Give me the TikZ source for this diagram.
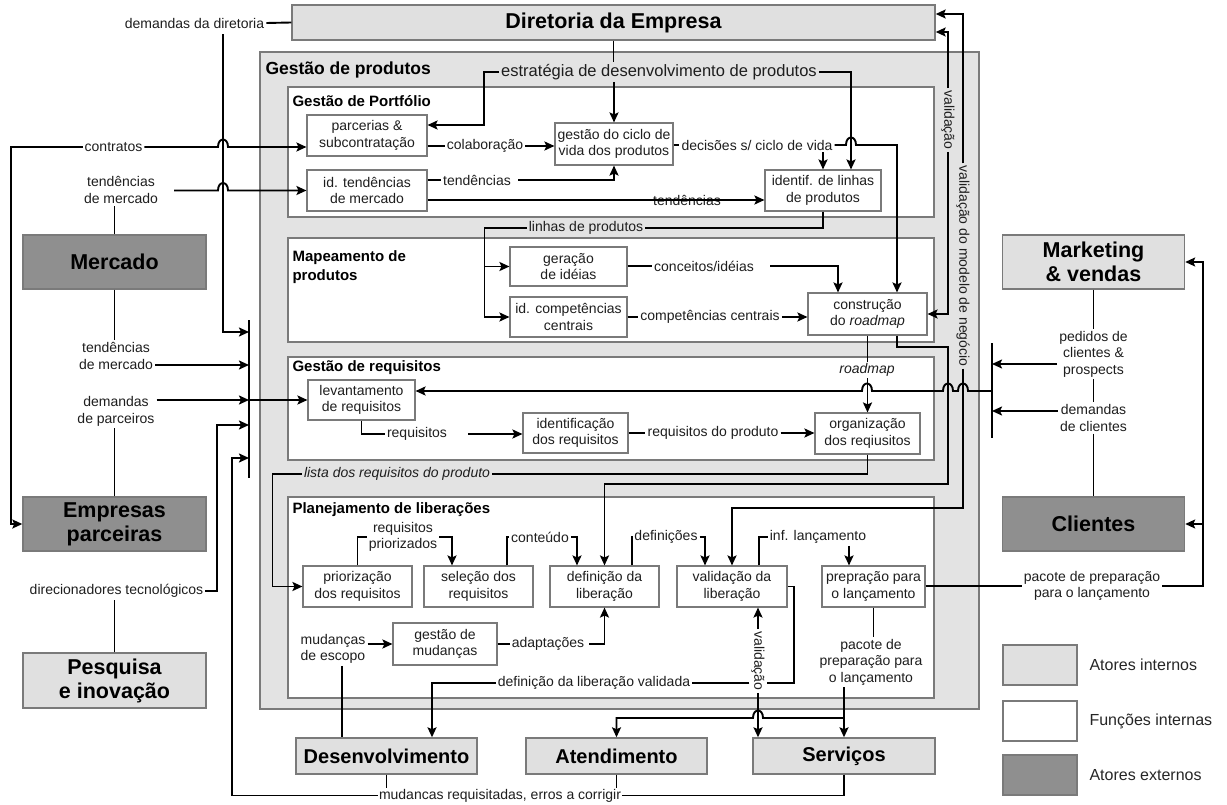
\documentclass[tikz,border=0pt]{standalone}
\usepackage{fontspec}
\setmainfont{Liberation Sans}
\usetikzlibrary{arrows.meta,calc}
\definecolor{bord}{HTML}{7A7A7A}
\definecolor{gpbg}{HTML}{E3E3E3}
\definecolor{ligray}{HTML}{E0E0E0}
\definecolor{dkgray}{HTML}{8F8F8F}
\definecolor{txt}{HTML}{1E1E1E}
\begin{document}
\begin{tikzpicture}[x=1pt,y=-1pt,
  every node/.style={font=\fontsize{14}{16.5}\selectfont, text=txt},
  fn/.style={draw=bord, fill=white, line width=1.1pt, align=center, inner sep=1pt},
  act/.style={draw=bord, line width=1.4pt, align=center, inner sep=1pt, font=\bfseries\fontsize{21.5}{24}\selectfont, text=black},
  ai/.style={act, fill=ligray},
  ae/.style={act, fill=dkgray},
  bot/.style={ai, font=\bfseries\fontsize{20}{24}\selectfont, minimum width=181pt, minimum height=36pt},
  grp/.style={draw=bord, line width=1.2pt},
  gtitle/.style={anchor=west, font=\bfseries\fontsize{15}{19}\selectfont, align=left, text=black},
  lbl/.style={align=center, inner sep=2pt},
  con/.style={line width=1.9pt, black},
  arr/.style={con, -{Stealth[length=10pt,width=9pt,inset=2pt]}},
  leg/.style={draw=bord, line width=1.2pt, minimum width=74pt, minimum height=40pt},
  legt/.style={anchor=west, font=\fontsize{16}{19}\selectfont, text=black!85}
]
\useasboundingbox (0,0) rectangle (1227,805);
\fill[white] (0,0) rectangle (1227,805);

% containers
\draw[grp, fill=gpbg] (260,52) rectangle (979,709);
\node[anchor=west, font=\bfseries\fontsize{17.5}{20}\selectfont, text=black] (tgp) at (262,70) {Gestão de produtos};
\draw[grp, fill=white] (288,87) rectangle (934,217);
\node[gtitle] (tport) at (289,101) {Gestão de Portfólio};
\draw[grp, fill=white] (288,238) rectangle (934,342);
\node[gtitle, anchor=north west] (tmap) at (289,247) {Mapeamento de\\produtos};
\draw[grp, fill=white] (288,357) rectangle (934,460);
\node[gtitle] (treq) at (289,368) {Gestão de requisitos};
\draw[grp, fill=white] (288,497) rectangle (934,698);
\node[gtitle] (tplan) at (289,510) {Planejamento de liberações};

% actors
\node[ai, minimum width=643pt, minimum height=35pt] (dir) at (613.5,22.5) {Diretoria da Empresa};
\node[ae, minimum width=183pt, minimum height=54pt] (merc) at (114.5,262) {Mercado};
\node[ae, minimum width=183pt, minimum height=54pt] (emp) at (114.5,524) {Empresas\\parceiras};
\node[ai, minimum width=183pt, minimum height=55pt] (pesq) at (114.5,680.5) {Pesquisa\\e inovação};
\node[ai, minimum width=182pt, minimum height=54pt] (mkt) at (1093.5,262) {Marketing\\\& vendas};
\node[ae, minimum width=182pt, minimum height=54pt] (cli) at (1093.5,524) {Clientes};
\node[bot] (dev) at (386.5,756) {Desenvolvimento};
\node[bot] (aten) at (616.5,756) {Atendimento};
\node[bot, minimum width=182pt] (serv) at (844,756) {Serviços};

% functions
\node[fn, minimum width=120pt, minimum height=41pt] (parc) at (367,135.5) {parcerias \&\\subcontratação};
\node[fn, minimum width=120pt, minimum height=41pt] (idtend) at (367,190.5) {id. tendências\\de mercado};
\node[fn, minimum width=118pt, minimum height=42pt] (ciclo) at (614,144) {gestão do ciclo de\\vida dos produtos};
\node[fn, minimum width=116pt, minimum height=41pt] (linhas) at (823,190.5) {identif. de linhas\\de produtos};
\node[fn, minimum width=117pt, minimum height=39pt] (ideias) at (568.5,266.5) {geração\\de idéias};
\node[fn, minimum width=117pt, minimum height=40pt] (comp) at (568.5,317) {id. competências\\centrais};
\node[fn, minimum width=119pt, minimum height=42pt] (road) at (867.5,314) {construção\\do \textit{roadmap}};
\node[fn, minimum width=107pt, minimum height=40pt] (levant) at (361.5,400) {levantamento\\de requisitos};
\node[fn, minimum width=105pt, minimum height=40pt] (ident) at (575.5,433) {identificação\\dos requisitos};
\node[fn, minimum width=105pt, minimum height=41pt] (org) at (867.5,433.5) {organização\\dos reqiusitos};
\node[fn, minimum width=109pt, minimum height=41pt] (prior) at (357.5,586.5) {priorização\\dos requisitos};
\node[fn, minimum width=109pt, minimum height=41pt] (selec) at (478.5,586.5) {seleção dos\\requisitos};
\node[fn, minimum width=109pt, minimum height=41pt] (defin) at (604.5,586.5) {definição da\\liberação};
\node[fn, minimum width=110pt, minimum height=41pt] (valid) at (732,586.5) {validação da\\liberação};
\node[fn, minimum width=103pt, minimum height=41pt] (prep) at (873.5,586.5) {prepração para\\o lançamento};
\node[fn, minimum width=104pt, minimum height=42pt] (mud) at (445,644) {gestão de\\mudanças};

% strategy
\node[lbl, font=\fontsize{16.5}{19}\selectfont] (lstrat) at (659,72) {estratégia de desenvolvimento de produtos};
\draw[con] (dir.south) -- (dir.south |- lstrat.north);
\draw[arr] (ciclo.north |- lstrat.south) -- (ciclo.north);
\draw[arr] (lstrat.west) -| ([xshift=56pt,yshift=10.5pt]parc.east) -- ([yshift=10.5pt]parc.east);
\draw[arr] (lstrat.east) -| ([xshift=28pt]linhas.north);

% portfolio
\node[lbl] (lcolab) at (485,146) {colaboração};
\draw[con] (parc.east |- lcolab) -- (lcolab.west);
\draw[arr] (lcolab.east) -- (ciclo.west |- lcolab);
\node[lbl] (ltendA) at (477,180) {tendências};
\draw[con] (idtend.east |- ltendA) -- (ltendA.west);
\draw[arr] ([xshift=5pt]ltendA.east) -| (ciclo.south);
\node[lbl] (ltendB) at (687,200) {tendências};
\draw[arr] (idtend.east |- ltendB) -- (linhas.west |- ltendB);
\node[lbl] (ldec) at (757,145) {decisões s/ ciclo de vida};
\draw[con] (ciclo.east |- ldec) -- (ldec.west);
\draw[arr] (linhas.north |- ldec.south) -- (linhas.north);
\coordinate (rn2) at ([xshift=29.5pt]road.north);
\draw[arr] (ldec.east) -- (846,145) .. controls (846,135) and (856,135) .. (856,145) -| (rn2);

% linhas de produtos
\node[lbl] (llinhas) at (586,228) {linhas de produtos};
\draw[con] (linhas.south) |- (llinhas.east);
\coordinate (cw) at ([xshift=-25pt]comp.west);
\coordinate (iw) at ([xshift=-25pt]ideias.west);
\draw[arr] (llinhas.west) -| (cw) -- (comp.west);
\draw[arr] (iw) -- (ideias.west);

% mapeamento
\node[lbl] (lconc) at (704,266) {conceitos/idéias};
\draw[con] (ideias.east |- lconc) -- (lconc.west);
\coordinate (rn1) at ([xshift=-29.5pt]road.north);
\draw[arr] ([xshift=14pt]lconc.east) -| (rn1);
\node[lbl] (lcompc) at (710,317) {competências centrais};
\draw[con] (comp.east |- lcompc) -- (lcompc.west);
\draw[arr] (lcompc.east) -- (road.west |- lcompc);

% validation lines to Diretoria
\node[lbl, rotate=-90] (lval) at (948,120) {validação};
\draw[arr] (lval.west) |- ([yshift=-9.5pt]dir.east);
\draw[arr] (lval.east) |- (road.east);
\node[lbl, rotate=-90] (lvalm) at (963,266) {validação do modelo de negócio};
\draw[arr] (lvalm.west) |- ([yshift=8.5pt]dir.east);
\coordinate (vm) at (963,508);
\draw[arr] (lvalm.east) -- (vm) -| (valid.north);

% roadmap
\draw[arr] (road.south) -- (org.north);
\coordinate (rs2) at ([xshift=29.5pt]road.south);
\coordinate (rd1) at (948,347);
\coordinate (rd2) at (948,484);
\draw[arr] (rs2) |- (rd1) -- (rd2) -| (defin.north);

% right side
\coordinate (RBt) at (992,343);
\coordinate (RBb) at (992,438);
\coordinate (RBo) at (992,391);
\draw[con] (RBt) -- (RBb);
\node[lbl] (lped) at (1093.5,354) {pedidos de\\clientes \&\\prospects};
\node[lbl] (ldem) at (1093.5,418) {demandas\\de clientes};
\draw[con] (mkt.south) -- (lped.north);
\draw[con] (lped.south) -- (ldem.north);
\draw[con] (ldem.south) -- (cli.north);
\coordinate (pw) at ([yshift=-10pt]lped.west);
\coordinate (dw) at ([yshift=7pt]ldem.west);
\draw[arr] (pw) -- (pw -| RBt);
\draw[arr] (dw) -- (dw -| RBt);
\draw[arr] (RBo) -- (968,391) .. controls (968,381) and (958,381) .. (958,391) -- (953,391) .. controls (953,381) and (943,381) .. (943,391) -- (872,391) .. controls (872,381) and (862,381) .. (862,391) -- (levant.east |- RBo);
\node[lbl, fill=white, inner sep=1pt, font=\itshape\fontsize{14}{16}\selectfont] (lroad) at (867,370) {roadmap};

% requisitos
\node[lbl] (lreq) at (417,434) {requisitos};
\draw[con] (levant.south) |- (lreq.west);
\coordinate (lre) at ([xshift=19pt]lreq.east);
\draw[arr] (lre) -- (ident.west |- lre);
\node[lbl] (lreqprod) at (713,433) {requisitos do produto};
\draw[con] (ident.east |- lreqprod) -- (lreqprod.west);
\draw[arr] (lreqprod.east) -- (org.west |- lreqprod);
\node[lbl, font=\itshape\fontsize{14}{16}\selectfont] (llista) at (397,474) {lista dos requisitos do produto};
\draw[con] (org.south) |- (llista.east);
\coordinate (pwx) at ([xshift=-30pt]prior.west);
\draw[arr] (llista.west) -| (pwx) -- (prior.west);

% planejamento
\node[lbl] (lreqp) at (403,537) {requisitos\\priorizados};
\draw[con] (prior.north) |- (lreqp.west);
\coordinate (sn) at ([xshift=-26.5pt]selec.north);
\draw[arr] (lreqp.east) -| (sn);
\node[lbl] (lcont) at (540,537) {conteúdo};
\coordinate (sn2) at ([xshift=28.5pt]selec.north);
\draw[con] (sn2) |- (lcont.west);
\coordinate (dn1) at ([xshift=-27.5pt]defin.north);
\draw[arr] (lcont.east) -| (dn1);
\node[lbl] (ldefs) at (666,537) {definições};
\coordinate (dn2) at ([xshift=27.5pt]defin.north);
\draw[con] (dn2) |- (ldefs.west);
\coordinate (vn1) at ([xshift=-27pt]valid.north);
\draw[arr] (ldefs.east) -| (vn1);
\node[lbl] (linf) at (818,537) {inf. lançamento};
\coordinate (vn2) at ([xshift=27pt]valid.north);
\draw[con] (vn2) |- (linf.west);
\coordinate (pin) at ([xshift=-24.5pt]prep.north);
\draw[arr] (pin |- linf.south) -- (pin);

\node[lbl] (lmudesc) at (333,649) {mudanças\\de escopo};
\draw[arr] (lmudesc.east |- mud) -- (mud.west);
\coordinate (me) at ([xshift=9pt]lmudesc.south);
\draw[con] (me) -- (me |- dev.north);
\node[lbl] (ladapt) at (548,644) {adaptações};
\draw[con] (mud.east) -- (ladapt.west);
\draw[arr] ([xshift=3pt]ladapt.east) -| (defin.south);

\node[lbl] (ldlv) at (594,683) {definição da liberação validada};
\node[lbl, rotate=-90] (lval2) at (758,661) {validação};
\draw[con] (valid.east) -- ++(6,0) |- (lval2.north |- ldlv);
\draw[con] (lval2.south |- ldlv) -- (ldlv.east);
\coordinate (dv) at ([xshift=45.5pt]dev.north);
\draw[arr] (ldlv.west) -| (dv);
\draw[arr] (lval2.west) -- (lval2.west |- valid.south);
\draw[arr] (lval2.east) -- (lval2.east |- serv.north);

\node[lbl] (lpac2) at (871,662) {pacote de\\preparação para\\o lançamento};
\draw[con] (prep.south) -- (prep.south |- lpac2.north);
\draw[arr] (lpac2.south -| serv.north) -- (serv.north);
\coordinate (jB) at (844,718);
\draw[arr] (jB) -- (763,718) .. controls (763,708) and (753,708) .. (753,718) -| (aten.north);

\node[lbl] (lpac) at (1092,586) {pacote de preparação\\para o lançamento};
\draw[con] (prep.east |- lpac) -- (lpac.west);
\coordinate (mr) at ([xshift=18pt]mkt.east);
\coordinate (cr) at ([xshift=18pt]cli.east);
\draw[arr] (lpac.east) -| (mr) -- (mkt.east);
\draw[arr] (cr) -- (cli.east);

% left side
\coordinate (LBt) at (249,320);
\coordinate (LBb) at (249,478);
\coordinate (LB1) at (249,332);
\coordinate (LB2) at (249,365);
\coordinate (LB3) at (249,400);
\coordinate (LB4) at (249,425);
\coordinate (LB5) at (249,458);
\draw[con] (LBt) -- (LBb);

\node[lbl] (ldir) at (194.5,23) {demandas da diretoria};
\draw[con] (dir.west) -- (ldir.east);
\coordinate (dd) at ([xshift=28.5pt,yshift=-4pt]ldir.south);
\draw[arr] (dd) |- (LB1);

\node[lbl] (lcontr) at (113.5,147) {contratos};
\coordinate (ew) at ([xshift=-11pt]emp.west);
\draw[arr] (lcontr.west) -| (ew) -- (emp.west);
\draw[arr] (lcontr.east) -- (218,147) .. controls (218,137) and (228,137) .. (228,147) -- (parc.west |- lcontr);

\node[lbl] (ltend1) at (121,190) {tendências\\de mercado};
\draw[con] (merc.north) -- (merc.north |- ltend1.south);
\coordinate (t1) at ([xshift=14pt]ltend1.east);
\draw[arr] (t1 |- idtend) -- (218,190.5) .. controls (218,180.5) and (228,180.5) .. (228,190.5) -- (idtend.west);

\node[lbl] (ltend2) at (116,356) {tendências\\de mercado};
\draw[con] (merc.south) -- (merc.south |- ltend2.north);
\draw[arr] (ltend2.east |- LB2) -- (LB2);
\node[lbl] (lpar) at (116,411.5) {demandas\\de parceiros};
\draw[con] (emp.north) -- (emp.north |- lpar.south);
\draw[arr] (lpar.east |- LB3) -- (LB3);
\draw[arr] (LB3) -- (levant.west |- LB3);

\node[lbl] (ldirec) at (116.5,591) {direcionadores tecnológicos};
\draw[con] (pesq.north) -- (pesq.north |- ldirec.south);
\coordinate (LB4x) at ([xshift=-32pt]LB4);
\draw[arr] (ldirec.east) -| (LB4x) -- (LB4);

\node[lbl, inner sep=1pt] (lmudr) at (500,795.5) {mudancas requisitadas, erros a corrigir};
\draw[con] (dev.south) -- (dev.south |- lmudr.north);
\draw[con] (aten.south) -- (aten.south |- lmudr.north);
\draw[con] (serv.south) |- (lmudr.east);
\coordinate (LB5x) at ([xshift=-17pt]LB5);
\draw[arr] (lmudr.west) -| (LB5x) -- (LB5);

% legend
\node[leg, fill=ligray] (lg1) at (1040,665) {};
\node[leg, fill=white] (lg2) at (1040,721) {};
\node[leg, fill=dkgray] (lg3) at (1040,775) {};
\node[legt] (lgt1) at (1086,665) {Atores internos};
\node[legt] (lgt2) at (1086,721) {Funções internas};
\node[legt] (lgt3) at (1086,775) {Atores externos};
\end{tikzpicture}
\end{document}
